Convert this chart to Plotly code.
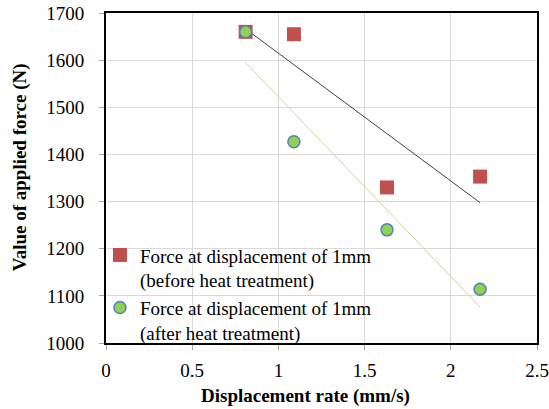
import numpy as np
import plotly.graph_objects as go

x_rate = [0.81, 1.09, 1.63, 2.17]
force_before = [1660, 1655, 1330, 1353]
force_after = [1660, 1427, 1240, 1114]
name_before = "Force at displacement of 1mm<br>(before heat treatment)"
name_after = "Force at displacement of 1mm<br>(after heat treatment)"
x_title = "<b>Displacement rate (mm/s)</b>"
y_title = "<b>Value of applied force (N)</b>"

FONT = "Liberation Serif"

def trend(x, y):
    k, b = np.polyfit(x, y, 1)
    xs = [min(x), max(x)]
    return xs, [k * v + b for v in xs]

fig = go.Figure()
tx, ty = trend(x_rate, force_before)
fig.add_trace(go.Scatter(x=tx, y=ty, mode="lines", line=dict(color="#404040", width=1),
                         showlegend=False, hoverinfo="skip"))
tx2, ty2 = trend(x_rate, force_after)
fig.add_trace(go.Scatter(x=tx2, y=ty2, mode="lines", line=dict(color="#C4D79B", width=1),
                         showlegend=False, hoverinfo="skip"))
fig.add_trace(go.Scatter(x=x_rate, y=force_before, mode="markers", name=name_before,
                         marker=dict(symbol="square", size=14, color="#C0504D",
                                     line=dict(width=0))))
fig.add_trace(go.Scatter(x=x_rate, y=force_after, mode="markers", name=name_after,
                         marker=dict(symbol="circle", size=12, color="#92D050",
                                     line=dict(width=1.5, color="#4F81BD"))))

axis_common = dict(showgrid=True, gridcolor="#D9D9D9", gridwidth=1,
                   showline=True, linecolor="black", linewidth=2, mirror=True,
                   ticks="outside", ticklen=5, tickcolor="#A6A6A6", automargin=False,
                   tickfont=dict(family=FONT, size=19, color="black"), zeroline=False)

fig.update_xaxes(range=[0, 2.5], dtick=0.5, tickformat="~g", ticklabelstandoff=4,
                 **axis_common)
fig.update_yaxes(range=[1000, 1700], dtick=100, ticklabelstandoff=11,
                 **axis_common)

fig.add_annotation(text=x_title, xref="paper", yref="paper", x=0.464, y=-0.16,
                   xanchor="center", yanchor="middle", showarrow=False,
                   font=dict(family=FONT, size=19, color="black"))
fig.add_annotation(text=y_title, xref="paper", yref="paper", x=-0.199, y=0.533,
                   xanchor="center", yanchor="middle", showarrow=False, textangle=-90,
                   font=dict(family=FONT, size=19, color="black"))

fig.update_layout(width=549, height=409, margin=dict(l=106, r=12, t=13, b=66),
                  paper_bgcolor="white", plot_bgcolor="white",
                  font=dict(family=FONT, size=19, color="black"),
                  legend=dict(x=-0.014, y=-0.025, xanchor="left", yanchor="bottom",
                              valign="top",
                              bgcolor="rgba(0,0,0,0)", font=dict(family=FONT, size=19, color="black"),
                              itemwidth=30))
fig.write_html("out.html")
